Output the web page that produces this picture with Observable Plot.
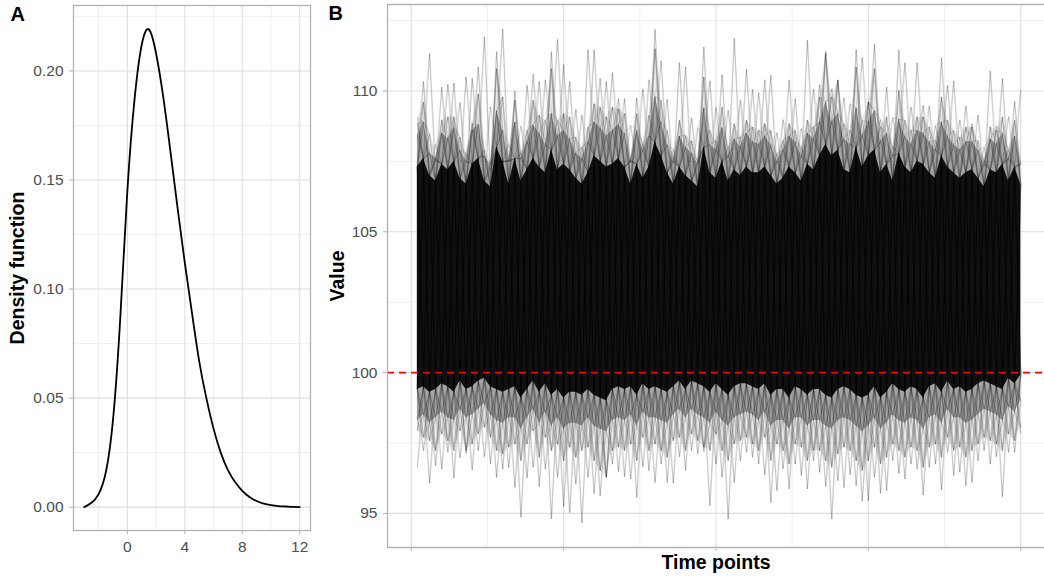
<!DOCTYPE html>
<html><head><meta charset="utf-8">
<script src="https://cdn.jsdelivr.net/npm/d3@7"></script>
<script src="https://cdn.jsdelivr.net/npm/@observablehq/plot@0.6"></script>
<style>
html,body{margin:0;padding:0;background:#fff;}
#wrap{position:relative;width:1044px;height:578px;overflow:hidden;background:#fff;}
#pa{position:absolute;left:0;top:0;width:320px;height:578px;}
#pb{position:absolute;left:320px;top:0;width:724px;height:578px;}
</style></head><body>
<div id="wrap"><div id="pa"></div><div id="pb"></div></div>
<script>
// ---------- Panel A data ----------
const densityX = [-3,-2.5,-2,-1.5,-1,-0.5,0,0.5,1,1.5,2,2.5,3,3.5,4,4.5,5,5.5,6,6.5,7,7.5,8,8.5,9,9.5,10,10.5,11,11.5,12];
const densityY = [0.000,0.002,0.006,0.016,0.040,0.086,0.145,0.187,0.212,0.219,0.208,0.188,0.163,0.137,0.112,0.089,0.067,0.050,0.036,0.025,0.017,0.0115,0.0075,0.0047,0.0028,0.0016,0.0009,0.0005,0.0003,0.0001,0.0000];
const densityXTicks = [0,4,8,12];
const densityXMinor = [-2,2,6,10];
const densityYTicks = [0,0.05,0.10,0.15,0.20];
const densityYMinor = [0.025,0.075,0.125,0.175,0.225];

// ---------- Panel B data ----------
const timePoints = d3.range(1, 101);
const upperMax = [109.08,110.34,111.33,108.1,110.14,110.24,110.28,109.59,110.5,110.44,
110.85,111.92,109.43,111.39,112.2,108.1,110.0,108.75,110.2,110.6,
110.34,110.4,111.39,111.83,110.94,110.34,109.34,109.14,111.47,111.45,
110.44,110.34,110.65,109.73,109.73,108.78,109.76,110.08,110.4,112.18,
111.07,109.7,107.92,111.01,110.85,109.05,108.7,111.56,110.36,109.41,
110.58,109.31,111.86,109.67,110.77,110.06,109.94,110.4,110.56,108.51,
108.98,110.4,109.73,108.66,111.8,110.06,110.23,111.41,110.08,110.4,
109.76,109.55,111.47,111.19,109.61,111.66,108.98,110.14,109.05,111.45,
111.0,109.43,111.01,109.49,109.46,108.78,111.17,110.2,110.36,108.96,
109.46,108.84,109.14,108.0,110.71,108.75,110.44,109.08,109.63,110.05];
const upper2 = [108.84,109.61,108.48,107.53,108.96,109.08,109.08,108.36,107.77,108.84,
109.9,107.9,107.18,110.8,109.79,107.53,109.67,107.77,108.6,109.67,
109.14,108.96,110.8,108.96,109.2,109.08,108.36,108.0,108.72,109.55,
109.43,109.08,109.43,109.37,109.2,107.53,109.2,108.13,109.14,111.5,
109.67,108.6,107.65,108.96,108.42,108.24,107.53,110.5,108.6,108.24,
109.43,108.0,108.84,108.36,108.96,108.72,108.6,108.84,108.6,107.77,
108.24,108.84,108.6,108.0,108.96,108.72,109.79,111.33,109.79,110.38,
108.84,108.6,110.85,108.96,109.61,110.8,108.72,109.08,108.0,110.02,
108.96,108.6,109.08,109.08,108.72,108.24,109.79,108.96,108.6,108.36,
108.72,108.72,108.24,107.53,108.72,108.6,109.08,107.9,108.96,107.41];
const upper3 = [108.4,108.9,107.8,107.6,108.5,108.3,108.7,107.9,107.5,108.6,
108.8,107.7,107.4,109.3,108.6,107.5,108.9,107.6,108.2,108.8,
108.5,108.1,109.2,108.4,108.6,108.3,107.8,107.6,108.2,108.9,
108.7,108.4,108.6,108.8,108.5,107.5,108.6,107.9,108.4,109.8,
108.9,108.1,107.5,108.4,108.0,107.8,107.4,109.4,108.1,107.9,
108.7,107.7,108.3,108.0,108.5,108.2,108.1,108.4,108.1,107.5,
107.9,108.4,108.2,107.7,108.5,108.3,108.9,109.6,108.9,109.2,
108.3,108.1,109.4,108.4,108.9,109.3,108.2,108.5,107.7,109.0,
108.4,108.1,108.6,108.5,108.2,107.9,108.9,108.4,108.1,107.9,
108.2,108.2,107.9,107.4,108.3,108.1,108.5,107.6,108.4,107.4];
const upper4 = [107.3,107.6,107.0,106.8,107.4,107.2,107.5,106.9,106.7,107.4,
107.6,106.8,106.6,108.0,107.5,106.7,107.6,106.8,107.2,107.6,
107.3,107.1,107.9,107.2,107.4,107.2,106.9,106.7,107.1,107.7,
107.5,107.3,107.4,107.6,107.3,106.7,107.4,106.9,107.3,108.2,
107.7,107.1,106.7,107.3,107.0,106.8,106.6,108.0,107.1,106.9,
107.5,106.8,107.2,107.0,107.3,107.1,107.1,107.3,107.0,106.7,
106.9,107.3,107.1,106.8,107.4,107.2,107.7,108.1,107.7,107.9,
107.2,107.1,108.0,107.3,107.7,107.9,107.1,107.4,106.8,107.8,
107.3,107.1,107.5,107.4,107.1,106.9,107.7,107.3,107.1,106.9,
107.1,107.2,106.9,106.6,107.2,107.1,107.4,106.8,107.3,106.7];
const lowerMin = [96.63,97.23,96.07,96.69,96.58,97.17,96.26,96.97,97.13,96.54,
97.23,97.01,96.75,96.28,96.58,96.63,95.92,94.86,96.26,96.63,
95.95,96.58,94.8,96.28,95.24,95.03,96.04,94.66,96.28,95.71,
95.63,96.28,96.75,96.49,96.3,96.22,95.57,96.66,96.52,96.1,
96.75,96.1,96.07,97.01,96.52,97.23,97.11,97.2,95.27,96.75,
96.28,94.8,96.1,96.87,97.17,96.99,96.75,96.37,95.39,95.81,
96.58,95.87,96.75,96.34,95.87,96.87,96.46,95.95,94.8,96.16,
95.92,96.37,95.98,95.43,95.45,96.28,95.71,95.81,96.87,96.42,
96.22,96.75,96.58,95.65,96.63,96.75,95.83,97.17,96.34,96.46,
95.98,96.1,96.87,97.23,96.75,97.01,95.59,97.17,97.17,97.84];
const lower2 = [97.94,97.7,97.58,97.23,97.82,97.58,97.23,97.94,97.23,97.46,
97.82,98.06,97.7,97.23,97.11,97.35,97.46,96.87,97.46,97.94,
96.99,97.7,97.23,97.46,96.87,97.35,96.99,97.23,97.35,96.87,
96.52,96.28,97.23,97.35,97.23,97.46,96.87,97.7,97.23,97.46,
97.23,96.99,97.58,97.7,97.23,97.82,97.58,97.35,97.23,97.82,
97.23,96.87,97.46,97.58,97.7,97.46,97.23,97.7,96.87,97.46,
97.23,96.75,97.46,97.35,96.87,97.23,97.23,96.87,96.63,97.11,
97.35,97.23,96.87,96.52,96.87,97.35,96.75,96.99,97.46,97.23,
96.99,97.35,97.23,96.63,97.35,97.46,96.99,97.7,97.23,97.35,
96.99,97.23,97.46,97.7,97.58,97.46,97.23,97.82,97.58,98.06];
const lower3 = [98.3,98.5,98.2,98.4,98.6,98.4,98.3,98.7,98.4,98.5,
98.7,98.9,98.5,98.3,98.2,98.4,98.4,98.0,98.4,98.7,
98.2,98.6,98.1,98.4,98.0,98.2,98.2,98.1,98.4,98.1,
98.0,97.9,98.3,98.4,98.3,98.5,98.1,98.6,98.4,98.4,
98.3,98.2,98.5,98.7,98.4,98.7,98.5,98.4,98.2,98.6,
98.3,98.1,98.4,98.5,98.6,98.5,98.3,98.6,98.1,98.3,
98.3,98.0,98.4,98.4,98.1,98.3,98.3,98.1,98.0,98.3,
98.4,98.3,98.1,97.9,98.1,98.4,98.0,98.2,98.5,98.3,
98.2,98.4,98.3,98.0,98.4,98.5,98.2,98.7,98.4,98.4,
98.2,98.3,98.5,98.7,98.6,98.5,98.3,98.8,98.6,99.0];
const lower4 = [99.4,99.5,99.3,99.4,99.6,99.5,99.3,99.7,99.4,99.5,
99.7,99.8,99.5,99.4,99.3,99.4,99.5,99.1,99.4,99.7,
99.3,99.6,99.2,99.4,99.1,99.3,99.3,99.2,99.4,99.2,
99.1,99.0,99.4,99.5,99.4,99.5,99.2,99.6,99.4,99.5,
99.4,99.3,99.5,99.7,99.4,99.7,99.6,99.5,99.3,99.6,
99.4,99.2,99.5,99.6,99.6,99.5,99.4,99.6,99.2,99.4,
99.4,99.1,99.5,99.4,99.2,99.4,99.4,99.2,99.1,99.4,
99.5,99.4,99.2,99.1,99.2,99.5,99.1,99.3,99.6,99.4,
99.3,99.5,99.4,99.1,99.5,99.6,99.3,99.7,99.4,99.5,
99.3,99.4,99.6,99.7,99.6,99.5,99.4,99.8,99.6,99.9];
const referenceValue = 100;
const timeTicks = [0,25,50,75,100];
const timeMinor = [12.5,37.5,62.5,87.5];
const valueTicks = [95,100,105,110];
const valueMinor = [97.5,102.5,107.5,112.5];

const FONT = '"Liberation Sans", Arial, Helvetica, sans-serif';
const GRID = "#DEDEDE", GRIDMINOR = "#EBEBEB", BORDER = "#B3B3B3", TICKTEXT = "#4D4D4D";
const TICKFS = 15.5, TITLEFS = 19.5, TAGFS = 20;

// ---------- Panel A ----------
const densData = densityX.map((x, i) => ({x, y: densityY[i]}));
const pa = Plot.plot({
  width: 320, height: 578,
  marginLeft: 73, marginRight: 10, marginTop: 5, marginBottom: 48,
  style: {fontFamily: FONT, fontSize: TICKFS + "px", background: "white", overflow: "visible"},
  x: {domain: [-3.75, 12.75]},
  y: {domain: [-0.0107, 0.2300]},
  marks: [
    Plot.ruleX(densityXMinor, {x: d => d, stroke: GRIDMINOR, strokeWidth: 0.8}),
    Plot.ruleY(densityYMinor, {y: d => d, stroke: GRIDMINOR, strokeWidth: 0.8}),
    Plot.ruleX(densityXTicks, {x: d => d, stroke: GRID, strokeWidth: 1.1}),
    Plot.ruleY(densityYTicks, {y: d => d, stroke: GRID, strokeWidth: 1.1}),
    Plot.line(densData, {x: "x", y: "y", curve: "natural", stroke: "black", strokeWidth: 1.8}),
    Plot.frame({stroke: BORDER, strokeWidth: 1.3}),
    Plot.axisX({ticks: densityXTicks, tickSize: 4, tickFormat: () => "", label: null, color: BORDER}),
    Plot.axisX({ticks: densityXTicks, tickSize: 0, tickPadding: 10, tickFormat: d => String(d), label: null, color: TICKTEXT, fontSize: TICKFS}),
    Plot.axisY({ticks: densityYTicks, tickSize: 4, tickFormat: () => "", label: null, color: BORDER}),
    Plot.axisY({ticks: densityYTicks, tickSize: 0, tickPadding: 10, tickFormat: d3.format(".2f"), label: null, color: TICKTEXT, fontSize: TICKFS}),
    Plot.text(["Density function"], {frameAnchor: "left", dx: -56, rotate: -90, fontSize: TITLEFS, fontWeight: "bold", fill: "black", textAnchor: "middle", lineAnchor: "middle"}),
    Plot.text(["A"], {frameAnchor: "top-left", dx: -63, dy: 1, fontSize: TAGFS, fontWeight: "bold", fill: "black", textAnchor: "start", lineAnchor: "top"})
  ]
});
document.getElementById("pa").appendChild(pa);

// ---------- Panel B ----------
const rows = timePoints.map((t, i) => ({t, u2: upper2[i], u3: upper3[i], u4: upper4[i], l2: lower2[i], l3: lower3[i], l4: lower4[i]}));
// each tier: peak values and the series whose neighbouring values the segments run to
const tiers = [
  {vals: upperMax, base: upper4, op: 0.16},
  {vals: upperMax, base: upper3, op: 0.08},
  {vals: upper2, base: upper4, op: 0.2},
  {vals: upper2, base: upper3, op: 0.12},
  {vals: upper3, base: upper4, op: 0.25},
  {vals: upper4, base: lower4, op: 0.35},
  {vals: lowerMin, base: lower4, op: 0.16},
  {vals: lowerMin, base: lower3, op: 0.08},
  {vals: lower2, base: lower4, op: 0.2},
  {vals: lower2, base: lower3, op: 0.12},
  {vals: lower3, base: lower4, op: 0.25},
  {vals: lower4, base: upper4, op: 0.35}
];
const spikes = [];
tiers.forEach(tier => {
  timePoints.forEach((t, i) => {
    if (i > 0) spikes.push({x1: timePoints[i - 1], y1: tier.base[i - 1], x2: t, y2: tier.vals[i], op: tier.op});
    if (i < timePoints.length - 1) spikes.push({x1: t, y1: tier.vals[i], x2: timePoints[i + 1], y2: tier.base[i + 1], op: tier.op});
  });
});
const xDom = [-3.9, 103.9], yDom = [93.79, 113.07];

const pb = Plot.plot({
  width: 724, height: 578,
  marginLeft: 67, marginRight: 0, marginTop: 4, marginBottom: 31,
  style: {fontFamily: FONT, fontSize: TICKFS + "px", background: "white", overflow: "visible"},
  x: {domain: xDom},
  y: {domain: yDom},
  marks: [
    Plot.ruleX(timeMinor, {x: d => d, stroke: GRIDMINOR, strokeWidth: 0.8}),
    Plot.ruleY(valueMinor, {y: d => d, stroke: GRIDMINOR, strokeWidth: 0.8}),
    Plot.ruleX(timeTicks, {x: d => d, stroke: GRID, strokeWidth: 1.1}),
    Plot.ruleY(valueTicks, {y: d => d, stroke: GRID, strokeWidth: 1.1}),
    Plot.areaY(rows, {x: "t", y1: "l2", y2: "u2", fill: "black", fillOpacity: 0.08}),
    Plot.areaY(rows, {x: "t", y1: "l3", y2: "u3", fill: "black", fillOpacity: 0.3}),
    Plot.areaY(rows, {x: "t", y1: "l4", y2: "u4", fill: "black", fillOpacity: 0.9}),
    Plot.link(spikes, {x1: "x1", y1: "y1", x2: "x2", y2: "y2", stroke: "black", strokeOpacity: "op", strokeWidth: 1.2}),
    Plot.ruleY([referenceValue], {y: d => d, stroke: "#FF0000", strokeWidth: 1.6, strokeDasharray: "7,5"}),
    Plot.ruleX([xDom[0]], {x: d => d, stroke: BORDER, strokeWidth: 1.3}),
    Plot.ruleY([yDom[0]], {y: d => d, stroke: BORDER, strokeWidth: 1.3}),
    Plot.ruleY([yDom[1]], {y: d => d, stroke: BORDER, strokeWidth: 1.3}),
    Plot.axisX({ticks: timeTicks, tickSize: 4, tickFormat: () => "", label: null, color: BORDER}),
    Plot.axisY({ticks: valueTicks, tickSize: 4, tickFormat: () => "", label: null, color: BORDER}),
    Plot.axisY({ticks: valueTicks, tickSize: 0, tickPadding: 10, tickFormat: d => String(d), label: null, color: TICKTEXT, fontSize: TICKFS}),
    Plot.text(["Value"], {frameAnchor: "left", dx: -50, rotate: -90, fontSize: TITLEFS, fontWeight: "bold", fill: "black", textAnchor: "middle", lineAnchor: "middle"}),
    Plot.text(["Time points"], {frameAnchor: "bottom", dy: 15, fontSize: TITLEFS, fontWeight: "bold", fill: "black", textAnchor: "middle", lineAnchor: "middle"}),
    Plot.text(["B"], {frameAnchor: "top-left", dx: -59, dy: 1, fontSize: TAGFS, fontWeight: "bold", fill: "black", textAnchor: "start", lineAnchor: "top"})
  ]
});
document.getElementById("pb").appendChild(pb);
</script>
</body></html>
